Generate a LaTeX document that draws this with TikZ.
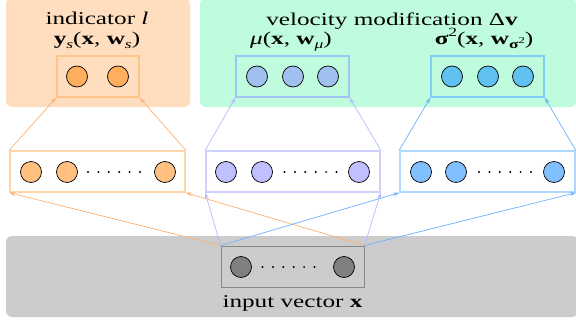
\documentclass[tikz,border=0pt]{standalone}
\usepackage{fontspec}
\setmainfont{Liberation Serif}[FakeStretch=1.4]
\usetikzlibrary{arrows.meta}
\definecolor{bgO}{RGB}{255,222,191}
\definecolor{bgG}{RGB}{191,251,221}
\definecolor{bgK}{RGB}{204,204,204}
\definecolor{fO1}{RGB}{255,192,128}
\definecolor{fO2}{RGB}{255,174,94}
\definecolor{fP1}{RGB}{192,192,255}
\definecolor{fP2}{RGB}{160,192,240}
\definecolor{fB1}{RGB}{128,192,255}
\definecolor{fB2}{RGB}{96,192,240}
\definecolor{fK}{RGB}{128,128,128}
\definecolor{bO1}{RGB}{255,214,170}
\definecolor{bO2}{RGB}{255,196,138}
\definecolor{bP1}{RGB}{208,208,255}
\definecolor{bP2}{RGB}{160,196,248}
\definecolor{bB1}{RGB}{176,216,255}
\definecolor{bB2}{RGB}{128,204,255}
\definecolor{bK}{RGB}{136,136,136}
\definecolor{lO}{RGB}{255,176,112}
\definecolor{lP}{RGB}{184,184,255}
\definecolor{lB}{RGB}{112,176,255}
\newcommand{\lsub}[1]{\raisebox{-0.22em}{\fontsize{12.5}{12.5}\selectfont #1}}
\newcommand{\lsup}[1]{\raisebox{0.45em}{\fontsize{12.5}{12.5}\selectfont #1}}
\tikzset{
  layerbox/.style={draw=#1, line width=1.5pt, minimum height=41pt, inner sep=0pt},
  unit/.style={circle, draw=black, line width=0.7pt, fill=#1, minimum size=21pt, inner sep=0pt},
  conn/.style={draw=#1, line width=0.7pt, -{Stealth[length=6pt,width=4pt]}},
  lab/.style={anchor=base, inner sep=0pt, font=\fontsize{18}{20}\selectfont},
  bg/.style={fill=#1, rounded corners=6pt},
  ddot/.style={fill=black}
}
\begin{document}
\begin{tikzpicture}[x=1pt,y=-1pt]
\useasboundingbox (0,0) rectangle (576,324);
% backgrounds
\path[bg=bgO] (6,-2) rectangle (190,107);
\path[bg=bgG] (200,-2) rectangle (576,107);
\path[bg=bgK] (6,236) rectangle (578,317);
% labels
\node[lab] (tInd) at (97,24.5) {indicator \textit{l}};
\node[lab] (tYs) at (97,45) {\textbf{y}\lsub{\textit{s}}(\textbf{x}, \textbf{w}\lsub{\textit{s}})};
\node[lab] (tVel) at (392,25) {velocity modification Δ\textbf{v}};
\node[lab] (tMu) at (291,45) {\textit{μ}(\textbf{x}, \textbf{w}\lsub{\textit{μ}})};
\node[lab] (tSig) at (484,45) {\textbf{σ}\lsup{2}(\textbf{x}, \textbf{w}\lsub{\textbf{σ}\raisebox{0.4em}{\fontsize{9}{9}\selectfont 2}})};
\node[lab] (tIn) at (292.5,307) {input vector \textbf{x}};
% boxes
\node[layerbox=bO2, minimum width=82pt] (oO) at (98,76.5) {};
\node[layerbox=bP2, minimum width=113pt] (oP) at (292.5,76.5) {};
\node[layerbox=bB2, minimum width=113pt] (oB) at (487.5,76.5) {};
\node[layerbox=bO1, minimum width=175pt] (hO) at (97.5,171.5) {};
\node[layerbox=bP1, minimum width=174pt] (hP) at (293,171.5) {};
\node[layerbox=bB1, minimum width=175pt] (hB) at (487.5,171.5) {};
\node[draw=bK, line width=1pt, minimum height=41pt, minimum width=143pt, inner sep=0pt] (inp) at (292.5,266.5) {};
% output units
\node[unit=fO2] (o1) at (77,76.5) {};
\node[unit=fO2] (o2) at (118,76.5) {};
\node[unit=fP2] (m1) at (257,76.5) {};
\node[unit=fP2] (m2) at (293,76.5) {};
\node[unit=fP2] (m3) at (328,76.5) {};
\node[unit=fB2] (s1) at (452,76.5) {};
\node[unit=fB2] (s2) at (488,76.5) {};
\node[unit=fB2] (s3) at (523,76.5) {};
% hidden units
\node[unit=fO1] (a1) at (31,172) {};
\node[unit=fO1] (a2) at (67,172) {};
\node[unit=fO1] (a3) at (165,172) {};
\node[unit=fP1] (b1) at (226,172) {};
\node[unit=fP1] (b2) at (262,172) {};
\node[unit=fP1] (b3) at (359,172) {};
\node[unit=fB1] (c1) at (421,172) {};
\node[unit=fB1] (c2) at (456,172) {};
\node[unit=fB1] (c3) at (554,172) {};
% input units
\node[unit=fK] (i1) at (241,267) {};
\node[unit=fK] (i2) at (344,267) {};
% dots
\foreach \cx/\cy in {114/172, 310.5/172, 505/172, 288.5/267}
  \foreach \k in {0,...,5}
    \fill[ddot] (\cx-26+10.4*\k,\cy) circle (1.1pt);
% connectors input -> hidden
\draw[conn=lO] (inp.north west) -- (hO.south west);
\draw[conn=lO] (inp.north east) -- (hO.south east);
\draw[conn=lP] (inp.north west) -- (hP.south west);
\draw[conn=lP] (inp.north east) -- (hP.south east);
\draw[conn=lB] (inp.north west) -- (hB.south west);
\draw[conn=lB] (inp.north east) -- (hB.south east);
% connectors hidden -> output
\draw[conn=lO] (hO.north west) -- (oO.south west);
\draw[conn=lO] (hO.north east) -- (oO.south east);
\draw[conn=lP] (hP.north west) -- (oP.south west);
\draw[conn=lP] (hP.north east) -- (oP.south east);
\draw[conn=lB] (hB.north west) -- (oB.south west);
\draw[conn=lB] (hB.north east) -- (oB.south east);
\end{tikzpicture}
\end{document}
